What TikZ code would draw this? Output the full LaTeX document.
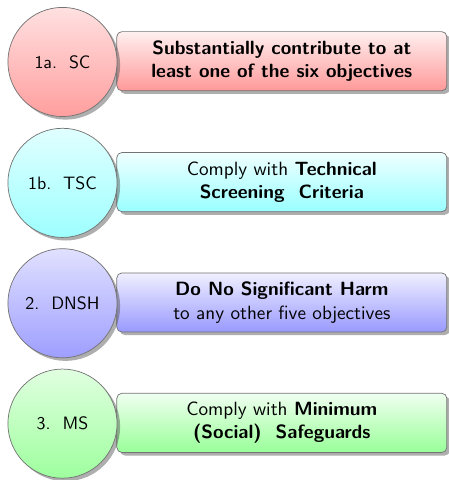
\documentclass[tikz,border=0pt]{standalone}
\usetikzlibrary{shadows}
\renewcommand{\familydefault}{\sfdefault}

\begin{document}
\begin{tikzpicture}
    \tikzstyle{goal}=[circle,draw=black!55,minimum size=2.14cm,inner sep=0pt,drop shadow={shadow xshift=0.06cm,shadow yshift=-0.06cm,fill=black!70,opacity=0.45}]
    \tikzstyle{crit}=[rectangle,rounded corners=0.1cm,draw=black!55,minimum width=6.47cm,minimum height=1.16cm,align=center,inner sep=0pt,font=\fontsize{10.7}{13}\selectfont,drop shadow={shadow xshift=0.06cm,shadow yshift=-0.06cm,fill=black!70,opacity=0.45}]
    \useasboundingbox (0,0) rectangle (8.8,-9.41);
    % 1a
    \node (scbox)[crit,top color=red!6,bottom color=red!40] at (5.525,-1.2) {\textbf{Substantially contribute to at}\\\textbf{least one of the six objectives}};
    \node (sc)[goal,top color=red!12,bottom color=red!38] at (1.225,-1.215) {1a.\ \ SC};
    % 1b
    \node (tscbox)[crit,top color=cyan!6,bottom color=cyan!40] at (5.525,-3.57) {Comply with \textbf{Technical}\\\textbf{Screening\ \ Criteria}};
    \node (tsc)[goal,top color=cyan!12,bottom color=cyan!38] at (1.225,-3.585) {1b.\ \ TSC};
    % 2
    \node (dnshbox)[crit,top color=blue!6,bottom color=blue!40] at (5.525,-5.93) {\textbf{Do\ No\ Significant\ Harm}\\to any other five objectives};
    \node (dnsh)[goal,top color=blue!12,bottom color=blue!38] at (1.225,-5.945) {2.\ \ DNSH};
    % 3
    \node (msbox)[crit,top color=green!6,bottom color=green!40] at (5.525,-8.29) {Comply with \textbf{Minimum}\\\textbf{(Social)\ \ Safeguards}};
    \node (ms)[goal,top color=green!12,bottom color=green!38] at (1.225,-8.305) {3.\ \ MS};
\end{tikzpicture}
\end{document}
